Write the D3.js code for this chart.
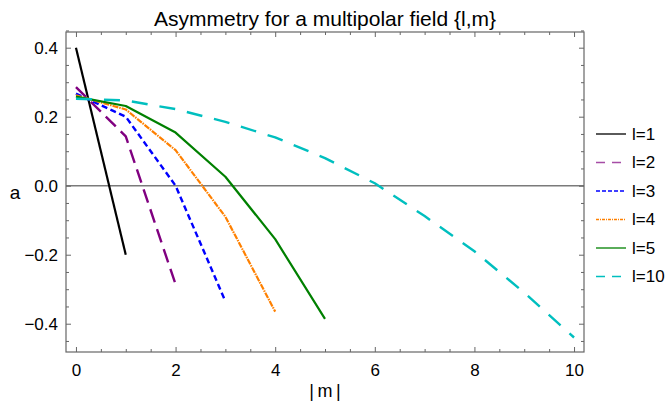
<!DOCTYPE html>
<html>
<head>
<meta charset="utf-8">
<script src="https://cdn.jsdelivr.net/npm/d3@7"></script>
<style>
  html, body { margin: 0; padding: 0; background: #fff; }
  svg { display: block; font-family: "Liberation Sans", Arial, sans-serif; }
</style>
</head>
<body>
<svg id="chart" width="667" height="403"></svg>
<script>
// ---- data ----
const seriesNames = ["l=1", "l=2", "l=3", "l=4", "l=5", "l=10"];
const aL1  = [0.4, -0.2];
const aL2  = [0.286, 0.143, -0.286];
const aL3  = [0.267, 0.2, 0.0, -0.335];
const aL4  = [0.262, 0.221, 0.103, -0.09, -0.365];
const aL5  = [0.258, 0.231, 0.154, 0.026, -0.155, -0.386];
const aL10 = [0.252, 0.247, 0.222, 0.185, 0.14, 0.08, 0.007, -0.088, -0.19, -0.31, -0.44];
const xTicks = [0, 2, 4, 6, 8, 10];
const xTickLabels = ["0", "2", "4", "6", "8", "10"];
const yTicks = [-0.4, -0.2, 0.0, 0.2, 0.4];
const yTickLabels = ["\u22120.4", "\u22120.2", "0.0", "0.2", "0.4"];
const titleText = "Asymmetry for a multipolar field {l,m}";
const xLabel = "|\u2009m\u2009|";
const yLabel = "a";

const seriesValues = [aL1, aL2, aL3, aL4, aL5, aL10];
const styles = [
  { color: "#000000", dash: null,            width: 2.2 },
  { color: "#800080", dash: "14,7",          width: 2.4 },
  { color: "#0000ff", dash: "6,3.5",         width: 2.4 },
  { color: "#ff8000", dash: "6,1,1.5,1",     width: 2.2 },
  { color: "#008000", dash: null,            width: 2.2 },
  { color: "#00bfbf", dash: "16,12",         width: 2.4 }
];

// ---- layout ----
const L = 66, R = 584, T = 32, B = 352;
const svg = d3.select("#chart");
const x = d3.scaleLinear().domain([-0.2, 10.2]).range([L, R]);
const y = d3.scaleLinear().domain([-0.482, 0.4455]).range([B, T]);

// zero line
svg.append("line")
  .attr("x1", L).attr("x2", R).attr("y1", y(0)).attr("y2", y(0))
  .attr("stroke", "#7a7a7a").attr("stroke-width", 1.5);

// ticks
const xMinor = d3.range(0, 10.01, 0.5).filter(v => xTicks.indexOf(v) < 0);
const yMinor = d3.range(-0.45, 0.451, 0.05).map(v => Math.round(v * 100) / 100)
  .filter(v => yTicks.every(t => Math.abs(t - v) > 1e-6));

function styleAxis(g) {
  g.select(".domain").remove();
  g.selectAll(".tick line").attr("stroke", "#666");
  g.selectAll(".tick text").attr("fill", "#000").style("font-size", "17px")
    .style("font-family", "'Liberation Sans', Arial, sans-serif");
}

svg.append("g").attr("transform", `translate(0,${B})`)
  .call(d3.axisBottom(x).tickValues(xTicks).tickSize(-5).tickPadding(12)
    .tickFormat((d, i) => xTickLabels[i])).call(styleAxis);
svg.append("g").attr("transform", `translate(0,${B})`)
  .call(d3.axisBottom(x).tickValues(xMinor).tickSize(-3).tickFormat("")).call(styleAxis);
svg.append("g").attr("transform", `translate(0,${T})`)
  .call(d3.axisTop(x).tickValues(xTicks).tickSize(-5).tickFormat("")).call(styleAxis);
svg.append("g").attr("transform", `translate(0,${T})`)
  .call(d3.axisTop(x).tickValues(xMinor).tickSize(-3).tickFormat("")).call(styleAxis);

svg.append("g").attr("transform", `translate(${L},0)`)
  .call(d3.axisLeft(y).tickValues(yTicks).tickSize(-5).tickPadding(8)
    .tickFormat((d, i) => yTickLabels[i])).call(styleAxis);
svg.append("g").attr("transform", `translate(${L},0)`)
  .call(d3.axisLeft(y).tickValues(yMinor).tickSize(-3).tickFormat("")).call(styleAxis);
svg.append("g").attr("transform", `translate(${R},0)`)
  .call(d3.axisRight(y).tickValues(yTicks).tickSize(-5).tickFormat("")).call(styleAxis);
svg.append("g").attr("transform", `translate(${R},0)`)
  .call(d3.axisRight(y).tickValues(yMinor).tickSize(-3).tickFormat("")).call(styleAxis);

// frame
svg.append("rect").attr("x", L).attr("y", T).attr("width", R - L).attr("height", B - T)
  .attr("fill", "none").attr("stroke", "#666").attr("stroke-width", 1.2);

// lines
const line = d3.line().x((d, i) => x(i)).y(d => y(d));
seriesValues.forEach((vals, k) => {
  const s = styles[k];
  svg.append("path").datum(vals)
    .attr("d", line)
    .attr("fill", "none")
    .attr("stroke", s.color)
    .attr("stroke-width", s.width)
    .attr("stroke-linejoin", "round")
    .attr("stroke-dasharray", s.dash);
});

// legend
const legX1 = 596, legX2 = 626, legTextX = 632, legY0 = 134, legDY = 28.5;
seriesNames.forEach((name, k) => {
  const s = styles[k];
  const ly = legY0 + k * legDY;
  svg.append("line").attr("x1", legX1).attr("x2", legX2).attr("y1", ly).attr("y2", ly)
    .attr("stroke", s.color).attr("stroke-width", 1.3)
    .attr("stroke-opacity", k === 1 ? 0.7 : 1)
    .attr("stroke-dasharray", s.dash ? (k === 3 ? "3,1,1,1" : (k === 2 ? "4,2" : "9,7")) : null);
  svg.append("text").attr("x", legTextX).attr("y", ly).attr("dy", "0.35em")
    .style("font-size", "17px").attr("fill", "#000").text(name);
});

// title and axis labels
svg.append("text").attr("x", 325).attr("y", 26).attr("text-anchor", "middle")
  .style("font-size", "21px").attr("fill", "#000").text(titleText);
svg.append("text").attr("x", 325).attr("y", 397).attr("text-anchor", "middle")
  .style("font-size", "18px").attr("fill", "#000").text(xLabel);
svg.append("text").attr("x", 15).attr("y", 199).attr("text-anchor", "middle")
  .style("font-size", "19px").attr("fill", "#000").text(yLabel);
</script>
</body>
</html>
